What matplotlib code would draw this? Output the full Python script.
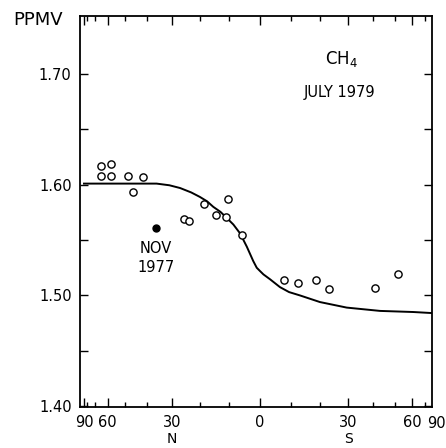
import numpy as np
import matplotlib
matplotlib.use("Agg")
import matplotlib.pyplot as plt
import matplotlib.transforms as mtransforms

# ---- data (latitude in degrees, north positive) ----
obs_lat = [64.6, 57.8, 64.6, 57.8, 48.7, 41.8, 46.2, 25.6, 23.9, 18.5,
           10.6, 14.6, 11.1, 5.9, -7.8, -12.6, -18.7, -23.1, -40.8, -51.6]
obs_ppmv = [1.617, 1.619, 1.608, 1.608, 1.608, 1.607, 1.593, 1.569, 1.567, 1.583,
            1.587, 1.573, 1.571, 1.555, 1.514, 1.511, 1.514, 1.506, 1.507, 1.519]
nov_lat = [36.2]
nov_ppmv = [1.561]
model_lat = [90, 60, 45, 36, 31, 27, 23, 20, 17.5, 15.4, 13, 10.9, 8.7, 6.5,
             4.3, 2.2, 1.07, 0, -1.1, -3.3, -6.5, -9.5, -13.1, -19.9, -29.5,
             -43.0, -60.6, -79.4, -90]
model_ppmv = [1.601, 1.601, 1.601, 1.601, 1.5995, 1.597, 1.593, 1.589, 1.585,
              1.580, 1.5755, 1.570, 1.564, 1.556, 1.544, 1.531, 1.525, 1.522,
              1.519, 1.5145, 1.5075, 1.503, 1.500, 1.494, 1.489, 1.486, 1.485,
              1.484, 1.484]
major_lat = [90, 60, 30, 0, -30, -60]
major_labels = ["90", "60", "30", "0", "30", "60"]
minor_lat = [80, 70, 50, 40, 20, 10, -10, -20, -40, -50, -70]
yticks = [1.40, 1.50, 1.60, 1.70]
ytick_labels = ["1.40", "1.50", "1.60", "1.70"]
yminor = [1.45, 1.55, 1.65]


def xpos(lat):
    # area-weighted latitude axis: north on the left
    return -np.sin(np.radians(np.asarray(lat, dtype=float)))


plt.rcParams['font.family'] = ['DejaVu Sans']
fig = plt.figure(figsize=(4.46, 4.48), dpi=100)
ax = fig.add_axes([80 / 446, 41 / 448, 352 / 446, 391 / 448])

ax.plot(xpos(model_lat), model_ppmv, color='black', lw=1.4, clip_on=True,
        solid_joinstyle='round')
ax.plot(xpos(obs_lat), obs_ppmv, 'o', mfc='white', mec='black', ms=5.2, mew=1.0)
ax.plot(xpos(nov_lat), nov_ppmv, 'o', mfc='black', mec='black', ms=5.0)

ax.set_xlim(-1.0227, 0.977)
ax.set_ylim(1.3992, 1.7524)

ax.set_xticks(xpos(major_lat))
ax.set_xticklabels(major_labels)
ax.set_xticks(xpos(minor_lat), minor=True)
ax.set_yticks(yticks)
ax.set_yticklabels(ytick_labels)
ax.set_yticks(yminor, minor=True)

ax.tick_params(axis='both', which='both', direction='in', top=True, right=True,
               width=1.0, color='black')
ax.tick_params(axis='x', which='major', length=6.5, pad=6, labelsize=10.5)
ax.tick_params(axis='x', which='minor', length=3.5)
ax.tick_params(axis='y', which='both', length=6, pad=6, labelsize=10.5)

for s in ax.spines.values():
    s.set_linewidth(1.3)

# the 90 S label sits just beyond the right edge of the frame
trans = mtransforms.blended_transform_factory(ax.transData, ax.transAxes)
ax.text(float(xpos(-90)), -0.022, "90", transform=trans, ha='center', va='top',
        fontsize=10.5, clip_on=False)
ax.text(float(xpos(30)), -0.0818, "N", transform=trans, ha='center', va='center',
        fontsize=10, clip_on=False)
ax.text(float(xpos(-30)), -0.0818, "S", transform=trans, ha='center', va='center',
        fontsize=10, clip_on=False)

ax.text(0.46, 1.7135, r"CH$_4$", ha='center', va='center', fontsize=12)
ax.text(0.449, 1.6837, "JULY 1979", ha='center', va='center', fontsize=10.5)
ax.text(-0.591, 1.5428, "NOV", ha='center', va='center', fontsize=10.5)
ax.text(-0.591, 1.5256, "1977", ha='center', va='center', fontsize=10.5)

fig.text(38 / 446, 1 - 20 / 448, "PPMV", ha='center', va='center', fontsize=13)

fig.savefig("out.png", dpi=100)
